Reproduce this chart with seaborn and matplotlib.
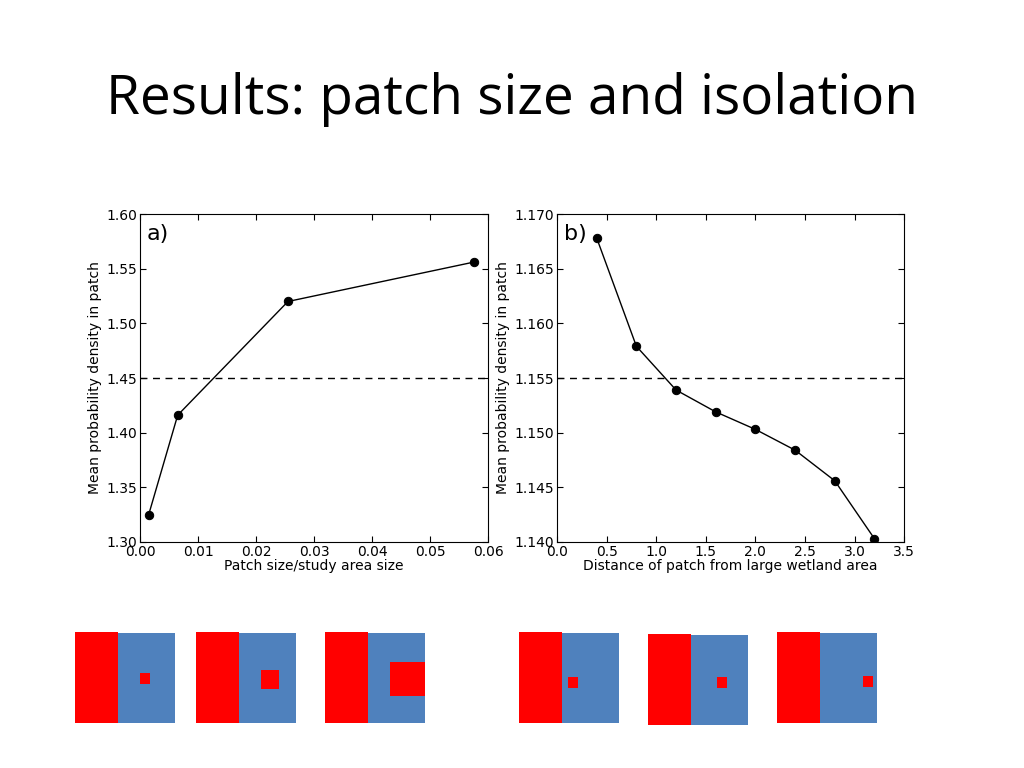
import numpy as np
import pandas as pd
import matplotlib
matplotlib.use('Agg')
import matplotlib.pyplot as plt
from matplotlib.patches import Rectangle
import seaborn as sns

# Panel a): patch size vs mean probability density
size_ratio = [0.0015, 0.0065, 0.0255, 0.0575]
size_density = [1.325, 1.416, 1.520, 1.556]
size_baseline = 1.45

# Panel b): distance from large wetland vs mean probability density
distance = [0.4, 0.8, 1.2, 1.6, 2.0, 2.4, 2.8, 3.2]
dist_density = [1.1678, 1.1579, 1.1539, 1.1519, 1.1503, 1.1484, 1.1456, 1.1403]
dist_baseline = 1.155

sns.set_style('ticks', {'xtick.direction': 'in', 'ytick.direction': 'in',
                        'xtick.top': True, 'ytick.right': True,
                        'text.color': 'black', 'axes.labelcolor': 'black',
                        'xtick.color': 'black', 'ytick.color': 'black',
                        'axes.edgecolor': 'black'})
plt.rcParams['font.family'] = ['DejaVu Sans']

fig = plt.figure(figsize=(10.24, 7.68), dpi=100)

fig.text(0.5, 0.870, 'Results: patch size and isolation', ha='center', va='center',
         fontsize=39.5, family='Open Sans', color='black')


def panel(ax, x, y, base, label, xlabel, xlim, ylim, xticks, yticks, xfmt, yfmt):
    df = pd.DataFrame({'x': x, 'y': y})
    sns.lineplot(data=df, x='x', y='y', ax=ax, color='black', lw=1,
                 marker='o', markersize=6, markeredgecolor='black')
    ax.axhline(base, color='black', ls='--', lw=1, dashes=(5, 4))
    ax.set_xlim(*xlim)
    ax.set_ylim(*ylim)
    ax.set_xticks(xticks)
    ax.set_yticks(yticks)
    ax.set_xticklabels([xfmt % t for t in xticks])
    ax.set_yticklabels([yfmt % t for t in yticks])
    ax.tick_params(labelsize=10, length=4, width=0.8, pad=2)
    ax.set_xlabel(xlabel, fontsize=10, labelpad=0)
    ax.set_ylabel('Mean probability density in patch', fontsize=10, labelpad=3)
    ax.text(0.02, 0.97, label, transform=ax.transAxes, fontsize=16, va='top', ha='left')
    for s in ax.spines.values():
        s.set_linewidth(0.8)


ax1 = fig.add_axes([0.1367, 0.2943, 0.340, 0.427])
panel(ax1, size_ratio, size_density, size_baseline, 'a)', 'Patch size/study area size',
      (0, 0.06), (1.30, 1.60), np.arange(0, 0.061, 0.01), np.arange(1.30, 1.601, 0.05),
      '%.2f', '%.2f')

ax2 = fig.add_axes([0.544, 0.2943, 0.339, 0.427])
panel(ax2, distance, dist_density, dist_baseline, 'b)', 'Distance of patch from large wetland area',
      (0, 3.5), (1.140, 1.170), np.arange(0, 3.51, 0.5), np.arange(1.140, 1.1701, 0.005),
      '%.1f', '%.3f')

# schematic diagrams under the panels (pixel layout)
red = '#ff0000'
blue = '#4f81bd'
dax = fig.add_axes([0, 0, 1, 1], zorder=-1)
dax.set_xlim(0, 1024)
dax.set_ylim(768, 0)
dax.axis('off')
diagrams = [
    (75, 632, (140, 673, 10, 11)),
    (196, 632, (261, 670, 18, 19)),
    (325, 632, (390, 662, 35, 34)),
    (519, 632, (568, 677, 10, 11)),
    (648, 634, (717, 677, 10, 11)),
    (777, 632, (863, 676, 10, 11)),
]
for x0, y0, sq in diagrams:
    dax.add_patch(Rectangle((x0 + 43, y0 + 1), 57, 90, color=blue, lw=0))
    dax.add_patch(Rectangle((x0, y0), 43, 91, color=red, lw=0))
    dax.add_patch(Rectangle(sq[:2], sq[2], sq[3], color=red, lw=0))

fig.savefig('out.png', dpi=100)
